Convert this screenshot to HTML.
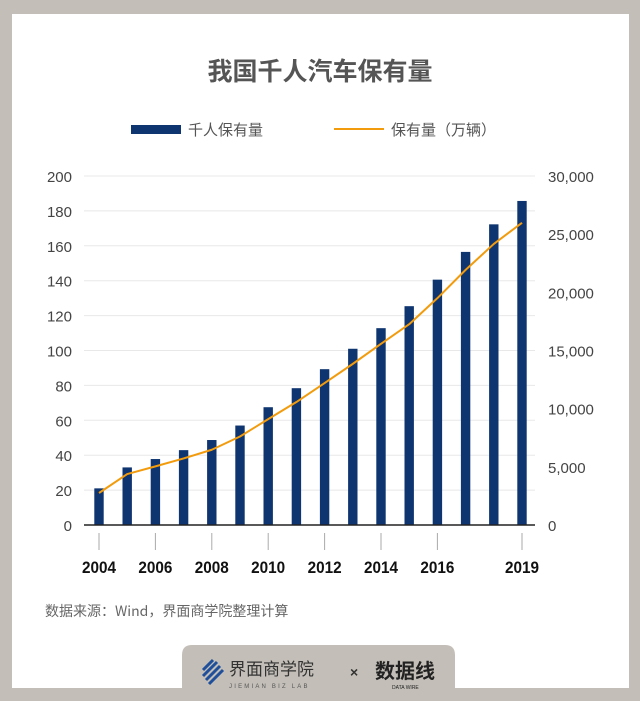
<!DOCTYPE html>
<html><head><meta charset="utf-8">
<style>
html,body{margin:0;padding:0;}
body{width:640px;height:701px;background:#c3bfb8;position:relative;overflow:hidden;font-family:"Liberation Sans","Noto Sans CJK SC",sans-serif;}
#card{position:absolute;left:12px;top:14px;width:617px;height:674px;background:#fff;}
svg{position:absolute;left:0;top:0;}
</style></head><body>
<div id="card"></div>
<svg width="640" height="701" id="chart">
<text x="320" y="80" text-anchor="middle" font-size="25" font-weight="bold" fill="#555" font-family="'Noto Sans CJK SC',sans-serif">我国千人汽车保有量</text>
<g>
<rect x="131" y="125" width="50" height="9" fill="#0e3570"/>
<text x="188" y="135" font-size="15" fill="#555" font-family="'Noto Sans CJK SC',sans-serif">千人保有量</text>
<line x1="334" y1="129" x2="384" y2="129" stroke="#f29b0c" stroke-width="2"/>
<text x="391" y="135" font-size="15" fill="#555" font-family="'Noto Sans CJK SC',sans-serif">保有量（万辆）</text>
</g>
<g id="grid"></g><g id="bars"></g><g id="line"></g><g id="axes"></g>
<text x="45" y="616" font-size="14" fill="#666" font-family="'Noto Sans CJK SC',sans-serif">数据来源：Wind，界面商学院整理计算</text>
<g>
<path d="M182 701 L182 655 Q182 645 192 645 L445 645 Q455 645 455 655 L455 701 Z" fill="#c3bfb8"/>
<g stroke="#1f4f9a" stroke-width="3"><line x1="203" y1="670" x2="213" y2="660"/><line x1="203" y1="676" x2="217" y2="662"/><line x1="206" y1="680" x2="220" y2="666"/><line x1="209" y1="684" x2="223" y2="670"/></g>
<text x="229" y="675" font-size="17" fill="#333" font-family="'Noto Sans CJK SC',sans-serif">界面商学院</text>
<text x="229" y="688" font-size="6" fill="#555" letter-spacing="2.2">JIEMIAN BIZ LAB</text>
<text x="350" y="677" font-size="14" fill="#333" font-weight="bold">×</text>
<text x="375" y="678" font-size="20" fill="#222" font-weight="bold" font-family="'Noto Sans CJK SC',sans-serif">数据线</text>
<text x="392" y="689" font-size="5" fill="#222">DATA WIRE</text>
</g>
</svg>
<script>
const years=[2004,2005,2006,2007,2008,2009,2010,2011,2012,2013,2014,2015,2016,2017,2018,2019];
const perThousand=[21,33,37.8,42.9,48.7,57,67.5,78.4,89.3,101,112.8,125.4,140.6,156.5,172.3,185.7];
const stockWan=[2750,4380,5040,5720,6470,7610,9100,10570,12200,13850,15570,17260,19500,21930,24160,25980];
const leftTicks=[0,20,40,60,80,100,120,140,160,180,200];
const rightTicks=[0,5000,10000,15000,20000,25000,30000];
const xLabels=[2004,2006,2008,2010,2012,2014,2016,2019];
const NS='http://www.w3.org/2000/svg';
const X0=84,X1=535,Y0=525,Y1=176;
const yL=v=>Y0-(v/200)*(Y0-Y1);
const yR=v=>Y0-(v/30000)*(Y0-Y1);
const step=(522-99)/(years.length-1);
const xC=y=>99+(y-years[0])*step;
function mk(t,a){const e=document.createElementNS(NS,t);for(const k in a)e.setAttribute(k,a[k]);return e;}
const grid=document.getElementById('grid'),bars=document.getElementById('bars'),lineG=document.getElementById('line'),axes=document.getElementById('axes');
leftTicks.forEach(v=>{
  if(v>0){const g=mk('line',{x1:X0,x2:X1,y1:yL(v),y2:yL(v),stroke:'#e8e8e8','stroke-width':1});
  
  grid.appendChild(g);}
  const t=mk('text',{x:72,y:yL(v)+6,'text-anchor':'end','font-size':15,fill:'#444'});t.textContent=v;
  
  axes.appendChild(t);
});
rightTicks.forEach(v=>{
  const t=mk('text',{x:548,y:yR(v)+6,'font-size':15,fill:'#444'});t.textContent=v.toLocaleString('en-US');
  
  axes.appendChild(t);
});
years.forEach((y,i)=>{
  const b=mk('rect',{x:xC(y)-4.7,y:yL(perThousand[i]),width:9.4,height:Y0-yL(perThousand[i]),fill:'#0e3570'});
  
  bars.appendChild(b);
});
const pts=years.map((y,i)=>xC(y)+','+yR(stockWan[i])).join(' ');
const pl=mk('polyline',{points:pts,fill:'none',stroke:'#f29b0c','stroke-width':2,'stroke-linejoin':'round'});

lineG.appendChild(pl);
const ax=mk('line',{x1:X0,x2:X1,y1:Y0,y2:Y0,stroke:'#222','stroke-width':1.5});

axes.appendChild(ax);
xLabels.forEach(y=>{
  const tk=mk('line',{x1:xC(y),x2:xC(y),y1:533,y2:550,stroke:'#aaa','stroke-width':1});
  
  axes.appendChild(tk);
  const t=mk('text',{x:xC(y),y:573,'text-anchor':'middle','font-size':17,'font-weight':'bold',fill:'#111',transform:'translate('+xC(y)+',0) scale(0.9,1) translate('+(-xC(y))+',0)'});t.textContent=y;
  
  axes.appendChild(t);
});
</script>
</body></html>
